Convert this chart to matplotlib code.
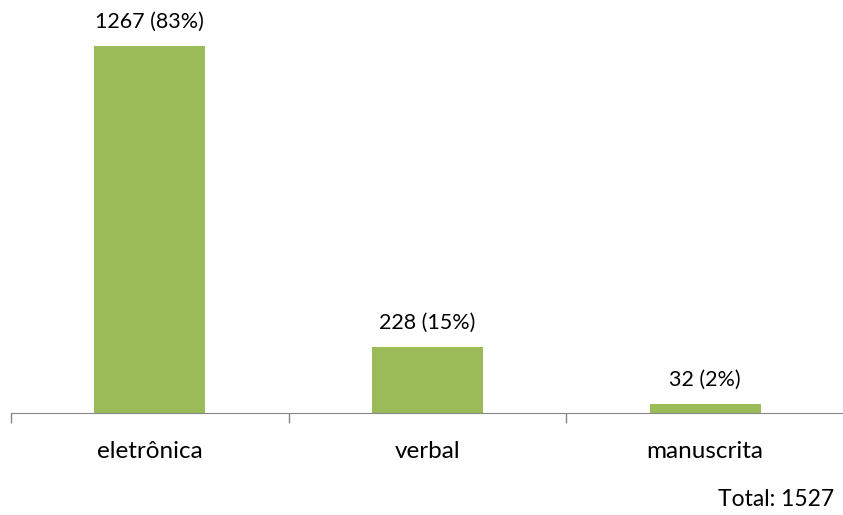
import matplotlib.pyplot as plt
import numpy as np

categorias = ["eletrônica", "verbal", "manuscrita"]
valores = [1267, 228, 32]
percentuais = [83, 15, 2]
total = 1527

plt.rcParams['font.family'] = ['Lato', 'DejaVu Sans']

fig = plt.figure(figsize=(8.43, 5.15), dpi=100)
ax = fig.add_axes([11 / 843, 102 / 515, 833 / 843, 405.6 / 515])

x = np.arange(len(categorias))
ax.bar(x, valores, width=0.4, color="#9bbb59")

for xi, v, p in zip(x, valores, percentuais):
    ax.annotate(f"{v} ({p}%)", (xi, v), xytext=(0, 10), textcoords="offset points",
                ha="center", va="bottom", fontsize=15.5)

ax.set_xlim(-0.5, len(categorias) - 0.5)
ax.set_ylim(0, 1400)
ax.set_yticks([])
ax.set_xticks(x)
ax.set_xticklabels(categorias, fontsize=17.5)
ax.tick_params(axis="x", which="major", length=0, pad=20)
ax.set_xticks(np.arange(len(categorias) + 1) - 0.5, minor=True)
ax.tick_params(axis="x", which="minor", length=7, color="#868686", width=1)

for s in ["top", "right", "left"]:
    ax.spines[s].set_visible(False)
ax.spines["bottom"].set_color("#868686")

fig.text(834 / 843, 16 / 515, f"Total: {total}", ha="right", va="center", fontsize=16.5)

fig.savefig("out.png")
